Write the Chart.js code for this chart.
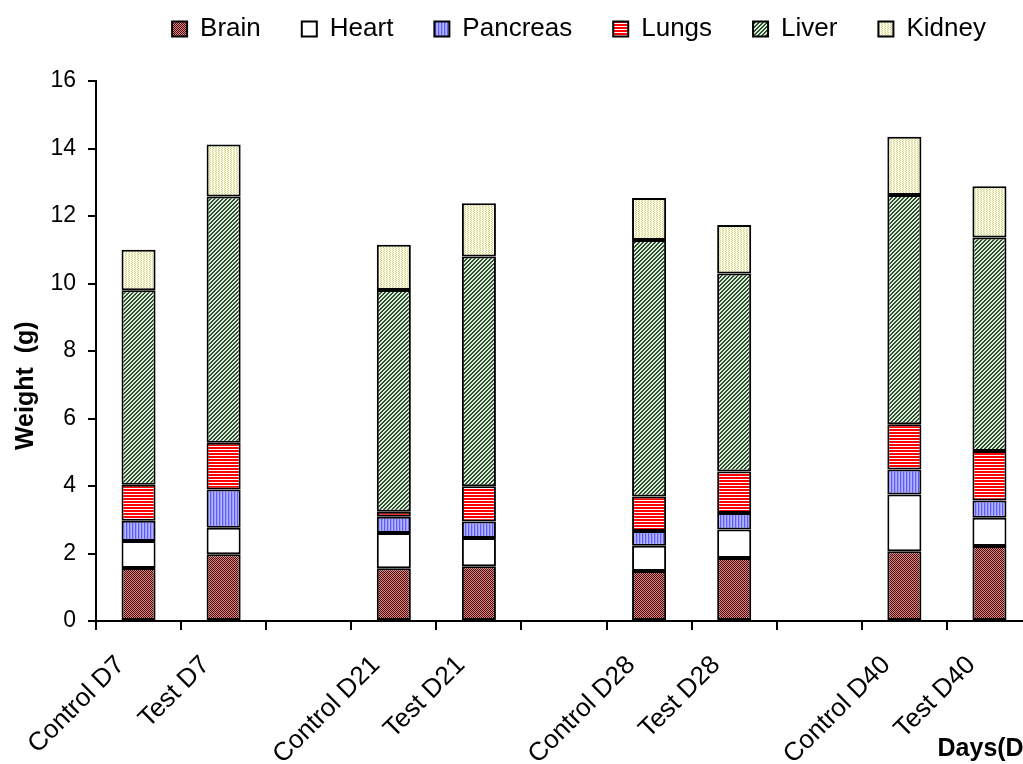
<!DOCTYPE html>
<html>
<head>
<meta charset="utf-8">
<script src="https://cdn.jsdelivr.net/npm/chart.js"></script>
<style>
html, body { margin: 0; padding: 0; overflow: hidden; background: #fff; }
#caja { width: 1040px; height: 764px; }
</style>
</head>
<body>
<div id="caja"><canvas id="pesoOrganos" width="1040" height="764"></canvas></div>
<script>
// categorias (las vacias son los huecos entre dias)
var categorias = ['Control D7', 'Test D7', '', 'Control D21', 'Test D21', '', 'Control D28', 'Test D28', '', 'Control D40', 'Test D40'];
var brain    = [1.57, 1.98, null, 1.56, 1.62, null, 1.48, 1.87, null, 2.07, 2.22];
var heart    = [0.80, 0.78, null, 1.05, 0.84, null, 0.75, 0.84, null, 1.68, 0.84];
var pancreas = [0.60, 1.14, null, 0.48, 0.49, null, 0.44, 0.49, null, 0.74, 0.51];
var lungs    = [1.07, 1.38, null, 0.15, 1.04, null, 1.02, 1.23, null, 1.34, 1.47];
var liver    = [5.76, 7.30, null, 6.57, 6.81, null, 7.60, 5.87, null, 6.79, 6.32];
var kidney   = [1.20, 1.54, null, 1.34, 1.58, null, 1.24, 1.43, null, 1.73, 1.52];
var pesoMin = 0, pesoMax = 16, pesoPaso = 2;

// tramas tipo excel
function trama(w, h, pintar) {
	var c = document.createElement('canvas');
	c.width = w; c.height = h;
	var g = c.getContext('2d');
	pintar(g);
	return g.createPattern(c, 'repeat');
}
var tramaBrain = trama(2, 2, function (g) {
	g.fillStyle = '#c99090'; g.fillRect(0, 0, 2, 2);
	g.fillStyle = '#5e0000'; g.fillRect(0, 0, 1, 1); g.fillRect(1, 1, 1, 1);
});
var tramaPancreas = trama(3, 1, function (g) {
	g.fillStyle = '#5c5cff'; g.fillRect(0, 0, 1, 1);
	g.fillStyle = '#9c9cff'; g.fillRect(1, 0, 1, 1);
	g.fillStyle = '#b4b4ff'; g.fillRect(2, 0, 1, 1);
});
var tramaLungs = trama(1, 3, function (g) {
	g.fillStyle = '#ff0000'; g.fillRect(0, 0, 1, 3);
	g.fillStyle = '#ffffff'; g.fillRect(0, 2, 1, 1);
});
var tramaLiver = trama(4, 4, function (g) {
	g.fillStyle = '#dfe9df'; g.fillRect(0, 0, 4, 4);
	g.fillStyle = '#2a532a';
	for (var x = 0; x < 4; x++) for (var y = 0; y < 4; y++) if ((x + y) % 4 < 2) g.fillRect(x, y, 1, 1);
});
var tramaKidney = trama(3, 2, function (g) {
	g.fillStyle = '#ffffe3'; g.fillRect(0, 0, 3, 2);
	g.fillStyle = '#cdcd98'; g.fillRect(0, 0, 1, 1); g.fillRect(2, 1, 1, 1);
});

// la leyenda de excel no esta centrada en el lienzo
var moverLeyenda = {
	id: 'moverLeyenda',
	afterLayout: function (chart) {
		var l = chart.legend;
		l.left += 63; l.right += 63;
		l.top -= 29; l.bottom -= 29;
	}
};

Chart.defaults.font.family = "'Liberation Sans', Arial, sans-serif";
Chart.defaults.color = '#000';

function serie(nombre, valores, relleno) {
	return { label: nombre, data: valores, backgroundColor: relleno, borderColor: '#000', borderWidth: 2, borderSkipped: false };
}

var ctx = document.getElementById('pesoOrganos').getContext('2d');
var chart = new Chart(ctx, {
	type: 'bar',
	data: {
		labels: categorias,
		datasets: [
			serie('Brain', brain, tramaBrain),
			serie('Heart', heart, '#ffffff'),
			serie('Pancreas', pancreas, tramaPancreas),
			serie('Lungs', lungs, tramaLungs),
			serie('Liver', liver, tramaLiver),
			serie('Kidney', kidney, tramaKidney)
		]
	},
	options: {
		responsive: false,
		animation: false,
		barPercentage: 0.4,
		categoryPercentage: 1,
		layout: { padding: { top: 4, right: 8, left: 0, bottom: 0 } },
		plugins: {
			legend: {
				position: 'top',
				labels: { boxWidth: 15, boxHeight: 15, padding: 41, font: { size: 26 } }
			},
			tooltip: { enabled: false }
		},
		scales: {
			x: {
				stacked: true,
				grid: { display: true, drawOnChartArea: false, drawTicks: true, tickLength: 9, color: '#000', lineWidth: 2, offset: true },
				border: { color: '#000', width: 2 },
				ticks: { autoSkip: false, maxRotation: 45, minRotation: 45, padding: 20, labelOffset: -18, font: { size: 26 } },
				title: { display: true, text: 'Days(D)', align: 'end', font: { size: 25, weight: 'bold' }, padding: { top: 0, bottom: 0 } },
				afterFit: function (s) { s.height = 143; }
			},
			y: {
				stacked: true,
				min: pesoMin,
				max: pesoMax,
				ticks: { stepSize: pesoPaso, padding: 12, font: { size: 23 } },
				grid: { display: true, drawOnChartArea: false, drawTicks: true, tickLength: 8, color: '#000', lineWidth: 2 },
				border: { color: '#000', width: 2 },
				// espacios al final para bajar el titulo como en excel
				title: { display: true, text: 'Weight  (g)          ', font: { size: 25, weight: 'bold' }, padding: { top: 11, bottom: 0 } },
				afterFit: function (s) { s.width = 96; }
			}
		}
	},
	plugins: [moverLeyenda]
});
</script>
</body>
</html>
